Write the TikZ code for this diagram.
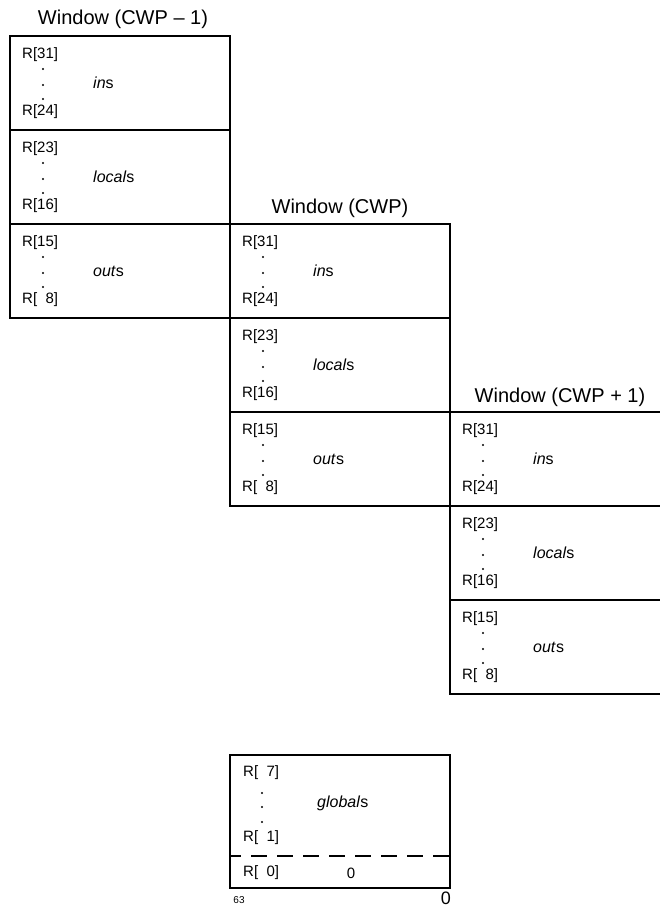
\documentclass[tikz,border=0pt]{standalone}
\usepackage{fontspec}
\setmainfont{Liberation Sans}
\newcommand\regsec[7]{% name, x, y, width, top reg, bottom reg, label
  \node[secbox, minimum width=#4pt] (#1) at (#2,#3) {};
  \node[reg] (#1-hi) at (#2+12,#3+19) {#5};
  \node[regdot] (#1-d1) at (#2+33,#3+33) {};
  \node[regdot] (#1-d2) at (#2+33,#3+49) {};
  \node[regdot] (#1-d3) at (#2+33,#3+63) {};
  \node[reg] (#1-lo) at (#2+12,#3+76) {#6};
  \node[lbl] (#1-lb) at (#2+83,#3+47) {#7};
}
\begin{document}
\begin{tikzpicture}[x=1pt,y=-1pt,
  secbox/.style={draw, line width=1.2pt, minimum height=94pt, anchor=north west, inner sep=0pt, outer sep=0pt},
  reg/.style={anchor=west, inner sep=0pt, font=\fontsize{15}{17}\selectfont},
  lbl/.style={anchor=west, inner sep=0pt, font=\fontsize{16}{18}\selectfont},
  ttl/.style={inner sep=0pt, font=\fontsize{20}{24}\selectfont},
  regdot/.style={circle, fill, inner sep=0pt, minimum size=2.4pt}]
\useasboundingbox (0,0) rectangle (660,908);
% Window (CWP - 1)
\node[ttl] (t1) at (123,19) {Window (CWP – 1)};
\regsec{a1}{10}{36}{220}{R[31]}{R[24]}{\textit{in}s}
\regsec{a2}{10}{130}{220}{R[23]}{R[16]}{\textit{local}s}
\regsec{a3}{10}{224}{220}{R[15]}{R[\hphantom{0}8]}{\textit{out}s}
% Window (CWP)
\node[ttl] (t2) at (340,208) {Window (CWP)};
\regsec{b1}{230}{224}{220}{R[31]}{R[24]}{\textit{in}s}
\regsec{b2}{230}{318}{220}{R[23]}{R[16]}{\textit{local}s}
\regsec{b3}{230}{412}{220}{R[15]}{R[\hphantom{0}8]}{\textit{out}s}
% Window (CWP + 1)
\node[ttl] (t3) at (560,397) {Window (CWP + 1)};
\regsec{c1}{450}{412}{212}{R[31]}{R[24]}{\textit{in}s}
\regsec{c2}{450}{506}{212}{R[23]}{R[16]}{\textit{local}s}
\regsec{c3}{450}{600}{212}{R[15]}{R[\hphantom{0}8]}{\textit{out}s}
% globals
\node[secbox, minimum width=220pt, minimum height=133pt] (glob) at (230,755) {};
\node[reg] (g-hi) at (243,773) {R[\hphantom{0}7]};
\node[regdot] (g-d1) at (262,793) {};
\node[regdot] (g-d2) at (262,807) {};
\node[regdot] (g-d3) at (262,822) {};
\node[reg] (g-lo) at (243,838) {R[\hphantom{0}1]};
\node[lbl] (g-lb) at (317,803) {\textit{global}s};
\coordinate (dl) at (230,856);
\coordinate (dr) at (450,856);
\draw[line width=1.2pt, dash pattern=on 16pt off 10pt, dash phase=5pt] (dl) -- (dr);
\node[reg] (g0) at (243,873) {R[\hphantom{0}0]};
\node[reg, anchor=center] (g0v) at (351,873) {0};
\node[inner sep=0pt, font=\fontsize{10}{12}\selectfont] (b63) at (239,900) {63};
\node[inner sep=0pt, font=\fontsize{18}{20}\selectfont] (b0) at (446,898) {0};
\end{tikzpicture}
\end{document}
